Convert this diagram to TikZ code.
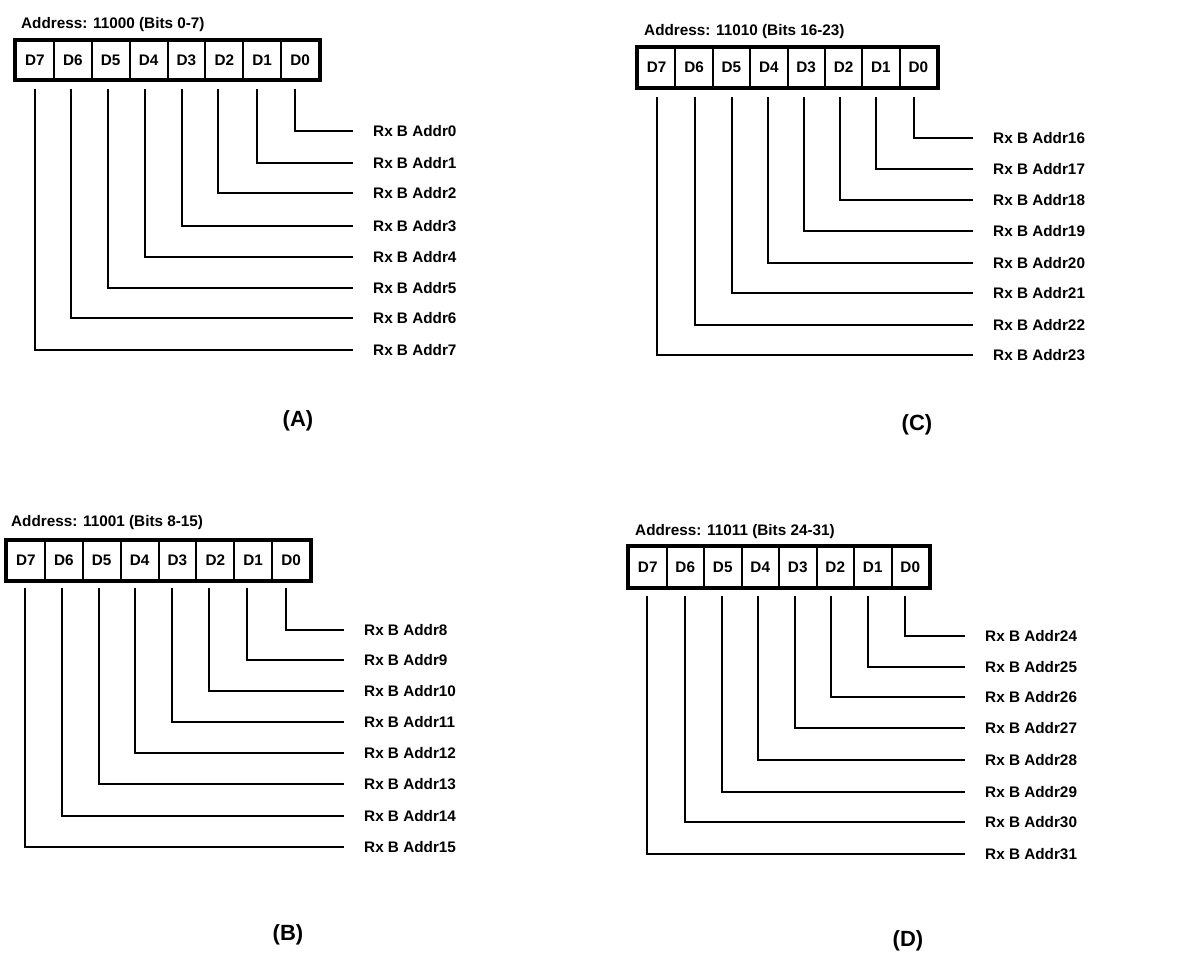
\documentclass[tikz,border=0pt]{standalone}
\usepackage{fontspec}
\setmainfont{Liberation Sans}
\newcommand\regpanel[9]{%
  \foreach \i [count=\k from 0] in {7,6,...,0}{
    \node[cell, minimum width=#4, minimum height=#5] (#1c\i) at ({#2+(\k+0.5)*#4}, {#3+#5/2}) {D\i};
  }
  \draw[frame] (#1c7.north west) rectangle (#1c0.south east);
  \foreach \b/\vx/\hy in {#9}{
    \pgfmathtruncatemacro\rbnum{\b+#8}
    \node[lbl] (#1l\b) at (#7,\hy) {Rx B Addr\rbnum};
    \coordinate (#1t\b) at (\vx,#6);
    \draw[wire] (#1t\b) |- ([xshift=-20pt]#1l\b.west);
  }
}
\begin{document}
\begin{tikzpicture}[x=1pt,y=-1pt,
  cell/.style={draw,line width=2pt,fill=white,inner sep=0pt,font=\fontsize{15.3}{18}\selectfont\bfseries},
  frame/.style={line width=4pt},
  wire/.style={line width=2.9pt},
  lbl/.style={anchor=west,inner sep=0pt,font=\fontsize{15.3}{18}\selectfont\bfseries},
  ttl/.style={anchor=west,inner sep=0pt,font=\fontsize{15.3}{18}\selectfont\bfseries},
  captext/.style={inner sep=0pt,font=\fontsize{22}{26}\selectfont\bfseries}]
\fill[white] (0,0) rectangle (1200,960);
\useasboundingbox (0,0) rectangle (1200,960);

\node[ttl] (tA) at (21,25) {Address: 11000 (Bits 0-7)};
\node[ttl] (tB) at (11,523) {Address: 11001 (Bits 8-15)};
\node[ttl] (tC) at (644,32) {Address: 11010 (Bits 16-23)};
\node[ttl] (tD) at (635,532) {Address: 11011 (Bits 24-31)};

\regpanel{A}{16}{41}{37.875}{38}{89}{373}{0}{0/295/131,1/257/163,2/218/193,3/182/226,4/145/257,5/108/288,6/71/318,7/35/350}
\regpanel{B}{7}{541}{37.875}{39}{588}{364}{8}{0/286/630,1/247/660,2/209/691,3/172/722,4/135/753,5/99/784,6/62/816,7/25/847}
\regpanel{C}{638}{48}{37.375}{39}{97}{993}{16}{0/914/138,1/876/169,2/840/200,3/804/231,4/768/263,5/732/293,6/695/325,7/657/355}
\regpanel{D}{629}{547}{37.5}{40}{596}{985}{24}{0/905/636,1/868/667,2/831/697,3/795/728,4/758/760,5/722/792,6/685/822,7/647/854}

\node[captext] (capA) at (298,421) {(A)};
\node[captext] (capC) at (917,425) {(C)};
\node[captext] (capB) at (288,935) {(B)};
\node[captext] (capD) at (908,941) {(D)};
\end{tikzpicture}
\end{document}
